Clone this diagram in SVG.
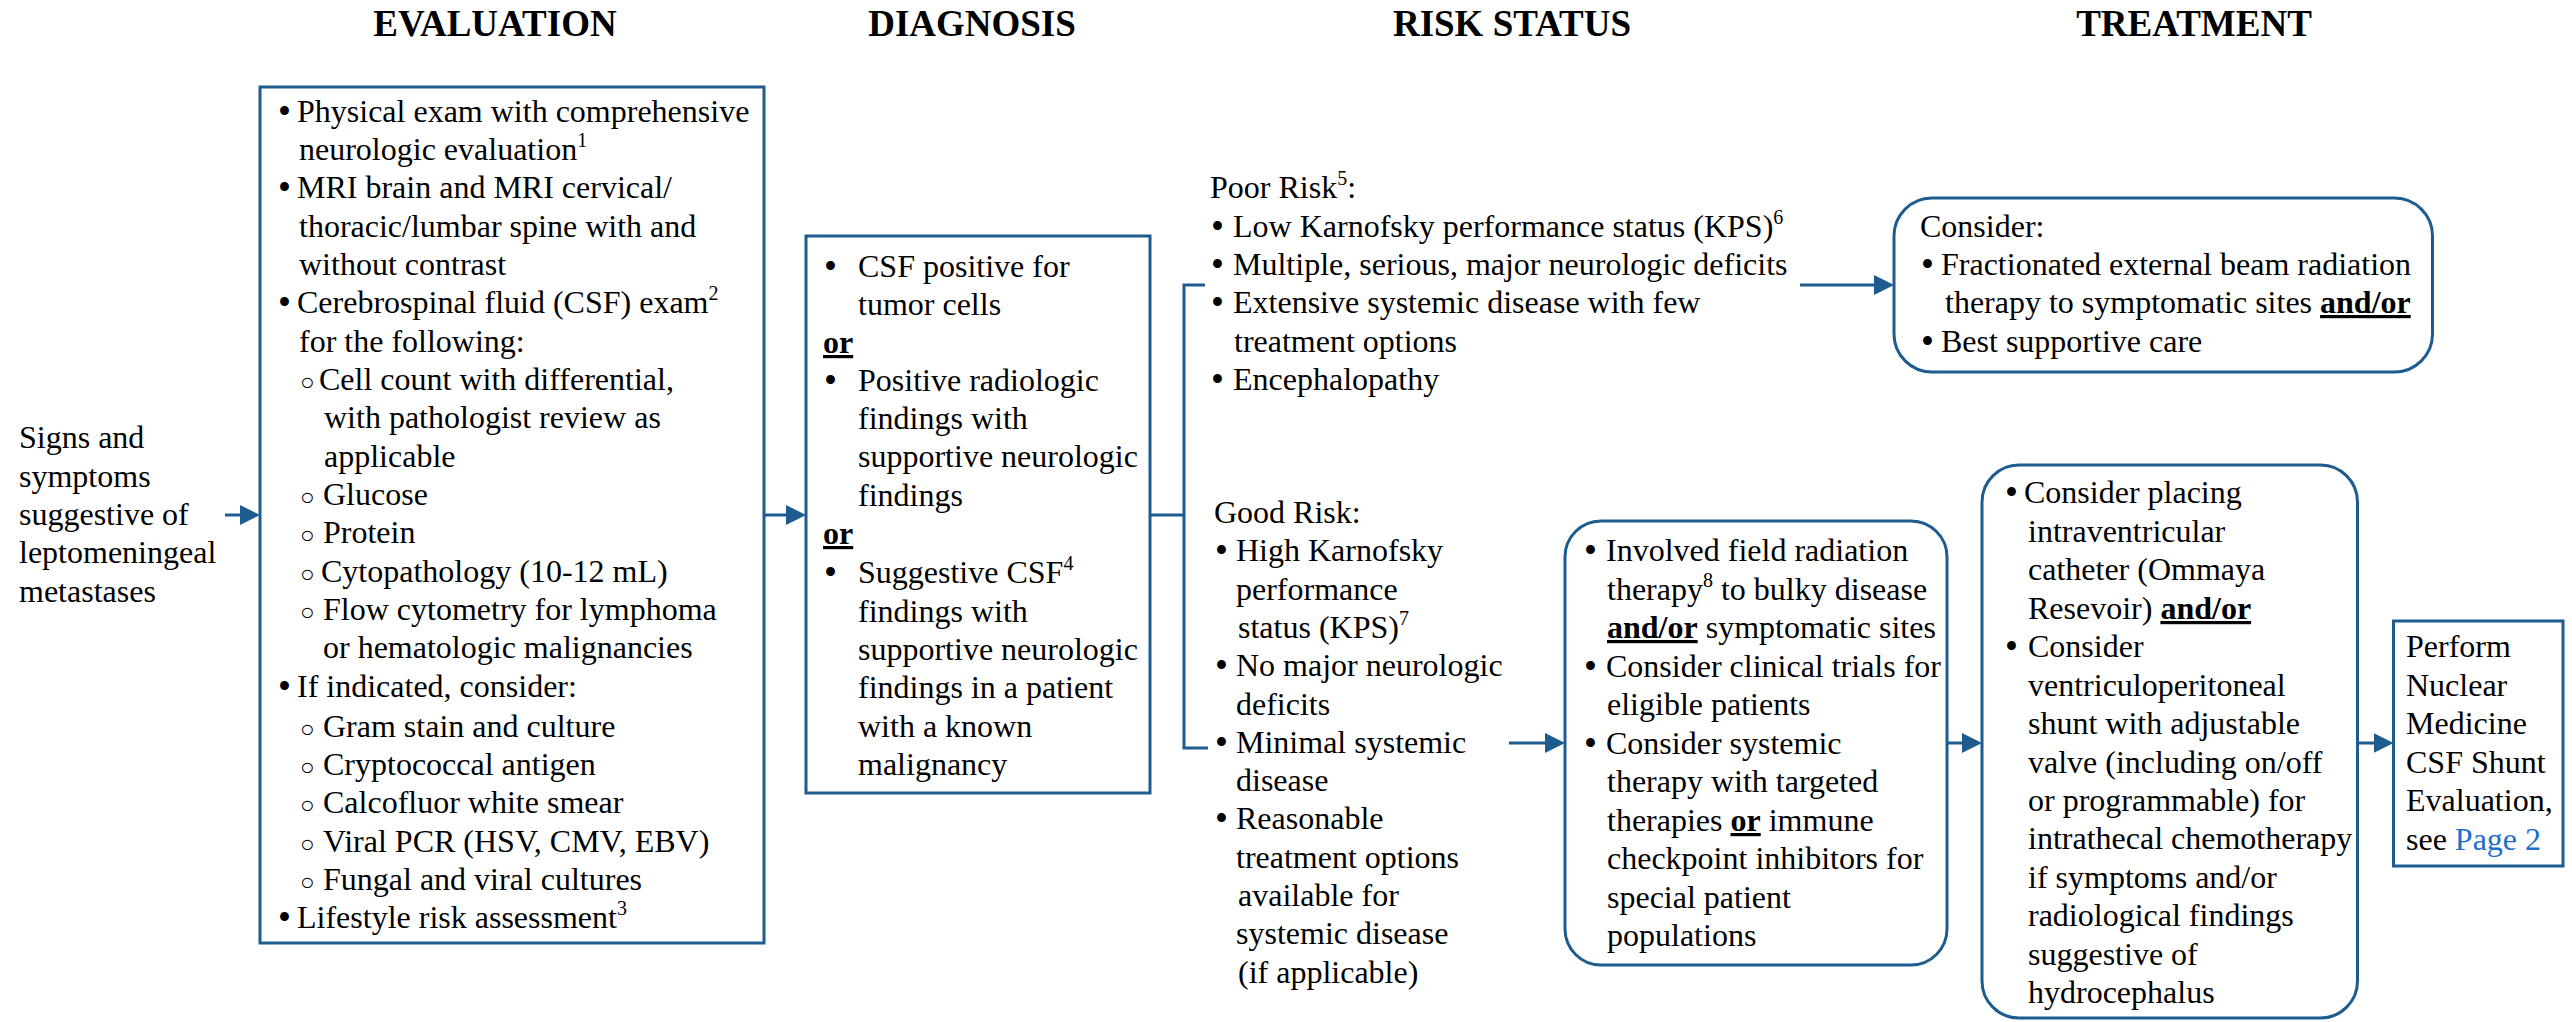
<svg xmlns="http://www.w3.org/2000/svg" width="2572" height="1022" viewBox="0 0 2572 1022">
<defs>
<style>
text{font-family:"Liberation Serif","Times New Roman","DejaVu Serif",serif;font-size:32px;fill:#000}
.h{font-weight:bold;font-size:37px;text-anchor:middle}
.b{font-weight:bold;text-decoration:underline}
.sup{font-size:20px}
.bl{font-size:37px;baseline-shift:-2px}
.cb{font-size:24px}
.link{fill:#1C6FCB}
.box{fill:#fff;stroke:#1E5B8F;stroke-width:3}
.c{fill:none;stroke:#1E5B8F;stroke-width:3}
</style>
<marker id="ah" markerUnits="userSpaceOnUse" markerWidth="20" markerHeight="20" viewBox="0 0 20 20" refX="10" refY="10" orient="auto">
<path d="M0,0 L20,10 L0,20 z" fill="#1E5B8F"/>
</marker>
</defs>
<rect width="2572" height="1022" fill="#fff"/>

<g id="headers">
<text class="h" x="495" y="36">EVALUATION</text>
<text class="h" x="972" y="36">DIAGNOSIS</text>
<text class="h" x="1512" y="36">RISK STATUS</text>
<text class="h" x="2194" y="36">TREATMENT</text>
</g>

<g id="connectors">
<path class="c" d="M225,515 H250" marker-end="url(#ah)"/>
<path class="c" d="M764,515 H796" marker-end="url(#ah)"/>
<path class="c" d="M1150,515 H1184"/>
<path class="c" d="M1205,285 H1184 V748 H1208"/>
<path class="c" d="M1800,285 H1884" marker-end="url(#ah)"/>
<path class="c" d="M1509,743 H1555" marker-end="url(#ah)"/>
<path class="c" d="M1947,743 H1972" marker-end="url(#ah)"/>
<path class="c" d="M2357.5,743 H2383.5" marker-end="url(#ah)"/>
</g>

<g id="signs">
<text>
<tspan x="19" y="448">Signs and</tspan>
<tspan x="19" y="487">symptoms</tspan>
<tspan x="19" y="525">suggestive of</tspan>
<tspan x="19" y="563">leptomeningeal</tspan>
<tspan x="19" y="602">metastases</tspan>
</text>
</g>

<g id="evaluation">
<rect class="box" x="260" y="87" width="504" height="856"/>
<text>
<tspan class="bl" x="278" y="122">•</tspan><tspan x="297">Physical exam with comprehensive</tspan>
<tspan x="299" y="160">neurologic evaluation</tspan><tspan class="sup" y="147">1</tspan>
<tspan class="bl" x="278" y="198">•</tspan><tspan x="297">MRI brain and MRI cervical/</tspan>
<tspan x="299" y="237">thoracic/lumbar spine with and</tspan>
<tspan x="299" y="275">without contrast</tspan>
<tspan class="bl" x="278" y="313">•</tspan><tspan x="297">Cerebrospinal fluid (CSF) exam</tspan><tspan class="sup" y="300">2</tspan>
<tspan x="299" y="352">for the following:</tspan>
<tspan class="cb" x="300" y="390">○</tspan><tspan x="319">Cell count with differential,</tspan>
<tspan x="324" y="428">with pathologist review as</tspan>
<tspan x="324" y="467">applicable</tspan>
<tspan class="cb" x="300" y="505">○</tspan><tspan x="323">Glucose</tspan>
<tspan class="cb" x="300" y="543">○</tspan><tspan x="323">Protein</tspan>
<tspan class="cb" x="300" y="582">○</tspan><tspan x="321">Cytopathology (10-12 mL)</tspan>
<tspan class="cb" x="300" y="620">○</tspan><tspan x="323">Flow cytometry for lymphoma</tspan>
<tspan x="323" y="658">or hematologic malignancies</tspan>
<tspan class="bl" x="278" y="697">•</tspan><tspan x="297">If indicated, consider:</tspan>
<tspan class="cb" x="300" y="737">○</tspan><tspan x="323">Gram stain and culture</tspan>
<tspan class="cb" x="300" y="775">○</tspan><tspan x="323">Cryptococcal antigen</tspan>
<tspan class="cb" x="300" y="813">○</tspan><tspan x="323">Calcofluor white smear</tspan>
<tspan class="cb" x="300" y="852">○</tspan><tspan x="323">Viral PCR (HSV, CMV, EBV)</tspan>
<tspan class="cb" x="300" y="890">○</tspan><tspan x="323">Fungal and viral cultures</tspan>
<tspan class="bl" x="278" y="928">•</tspan><tspan x="297">Lifestyle risk assessment</tspan><tspan class="sup" y="915">3</tspan>
</text>
</g>

<g id="diagnosis">
<rect class="box" x="806" y="236" width="344" height="557"/>
<text>
<tspan class="bl" x="824" y="277">•</tspan><tspan x="858">CSF positive for</tspan>
<tspan x="858" y="315">tumor cells</tspan>
<tspan class="b" x="823" y="353">or</tspan>
<tspan class="bl" x="824" y="391">•</tspan><tspan x="858">Positive radiologic</tspan>
<tspan x="858" y="429">findings with</tspan>
<tspan x="858" y="467">supportive neurologic</tspan>
<tspan x="858" y="506">findings</tspan>
<tspan class="b" x="823" y="544">or</tspan>
<tspan class="bl" x="824" y="583">•</tspan><tspan x="858">Suggestive CSF</tspan><tspan class="sup" y="570">4</tspan>
<tspan x="858" y="622">findings with</tspan>
<tspan x="858" y="660">supportive neurologic</tspan>
<tspan x="858" y="698">findings in a patient</tspan>
<tspan x="858" y="737">with a known</tspan>
<tspan x="858" y="775">malignancy</tspan>
</text>
</g>

<g id="poor-risk">
<text>
<tspan x="1210" y="198">Poor Risk</tspan><tspan class="sup" y="185">5</tspan><tspan y="198">:</tspan>
</text>
<text>
<tspan class="bl" x="1211" y="237">•</tspan><tspan x="1233">Low Karnofsky performance status (KPS)</tspan><tspan class="sup" y="224">6</tspan>
</text>
<text>
<tspan class="bl" x="1211" y="275">•</tspan><tspan x="1233">Multiple, serious, major neurologic deficits</tspan>
</text>
<text>
<tspan class="bl" x="1211" y="313">•</tspan><tspan x="1233">Extensive systemic disease with few</tspan>
<tspan x="1234" y="352">treatment options</tspan>
</text>
<text>
<tspan class="bl" x="1211" y="390">•</tspan><tspan x="1233">Encephalopathy</tspan>
</text>
</g>

<g id="good-risk">
<text>
<tspan x="1214" y="523">Good Risk:</tspan>
<tspan class="bl" x="1215" y="561">•</tspan><tspan x="1236">High Karnofsky</tspan>
<tspan x="1236" y="600">performance</tspan>
<tspan x="1238" y="638">status (KPS)</tspan><tspan class="sup" y="625">7</tspan>
<tspan class="bl" x="1215" y="676">•</tspan><tspan x="1236">No major neurologic</tspan>
<tspan x="1236" y="715">deficits</tspan>
<tspan class="bl" x="1215" y="753">•</tspan><tspan x="1236">Minimal systemic</tspan>
<tspan x="1236" y="791">disease</tspan>
<tspan class="bl" x="1215" y="829">•</tspan><tspan x="1236">Reasonable</tspan>
<tspan x="1236" y="868">treatment options</tspan>
<tspan x="1238" y="906">available for</tspan>
<tspan x="1236" y="944">systemic disease</tspan>
<tspan x="1238" y="983">(if applicable)</tspan>
</text>
</g>

<g id="consider-palliative">
<rect class="box" x="1894" y="198" width="538.5" height="174" rx="38" ry="38"/>
<text>
<tspan x="1920" y="237">Consider:</tspan>
<tspan class="bl" x="1921" y="275">•</tspan><tspan x="1941">Fractionated external beam radiation</tspan>
<tspan x="1945" y="313">therapy to symptomatic sites </tspan><tspan class="b">and/or</tspan>
<tspan class="bl" x="1921" y="352">•</tspan><tspan x="1941">Best supportive care</tspan>
</text>
</g>

<g id="radiation">
<rect class="box" x="1565" y="521" width="382" height="444" rx="36" ry="36"/>
<text>
<tspan class="bl" x="1584" y="561">•</tspan><tspan x="1606">Involved field radiation</tspan>
<tspan x="1607" y="600">therapy</tspan><tspan class="sup" y="587">8</tspan><tspan y="600"> to bulky disease</tspan>
<tspan class="b" x="1607" y="638">and/or</tspan><tspan> symptomatic sites</tspan>
<tspan class="bl" x="1584" y="677">•</tspan><tspan x="1606">Consider clinical trials for</tspan>
<tspan x="1607" y="715">eligible patients</tspan>
<tspan class="bl" x="1584" y="754">•</tspan><tspan x="1606">Consider systemic</tspan>
<tspan x="1607" y="792">therapy with targeted</tspan>
<tspan x="1607" y="831">therapies </tspan><tspan class="b">or</tspan><tspan> immune</tspan>
<tspan x="1607" y="869">checkpoint inhibitors for</tspan>
<tspan x="1607" y="908">special patient</tspan>
<tspan x="1607" y="946">populations</tspan>
</text>
</g>

<g id="intraventricular">
<rect class="box" x="1982" y="465" width="375.5" height="553" rx="37" ry="37"/>
<text>
<tspan class="bl" x="2005" y="503">•</tspan><tspan x="2024">Consider placing</tspan>
<tspan x="2028" y="542">intraventricular</tspan>
<tspan x="2028" y="580">catheter (Ommaya</tspan>
<tspan x="2028" y="619">Resevoir) </tspan><tspan class="b">and/or</tspan>
<tspan class="bl" x="2005" y="657">•</tspan><tspan x="2028">Consider</tspan>
<tspan x="2028" y="696">ventriculoperitoneal</tspan>
<tspan x="2028" y="734">shunt with adjustable</tspan>
<tspan x="2028" y="773">valve (including on/off</tspan>
<tspan x="2028" y="811">or programmable) for</tspan>
<tspan x="2028" y="849">intrathecal chemotherapy</tspan>
<tspan x="2028" y="888">if symptoms and/or</tspan>
<tspan x="2028" y="926">radiological findings</tspan>
<tspan x="2028" y="965">suggestive of</tspan>
<tspan x="2028" y="1003">hydrocephalus</tspan>
</text>
</g>

<g id="shunt-evaluation">
<rect class="box" x="2393.5" y="621" width="169.5" height="245"/>
<text>
<tspan x="2406" y="657">Perform</tspan>
<tspan x="2406" y="696">Nuclear</tspan>
<tspan x="2406" y="734">Medicine</tspan>
<tspan x="2406" y="773">CSF Shunt</tspan>
<tspan x="2406" y="811">Evaluation,</tspan>
<tspan x="2406" y="850">see </tspan><tspan class="link">Page 2</tspan>
</text>
</g>
</svg>
